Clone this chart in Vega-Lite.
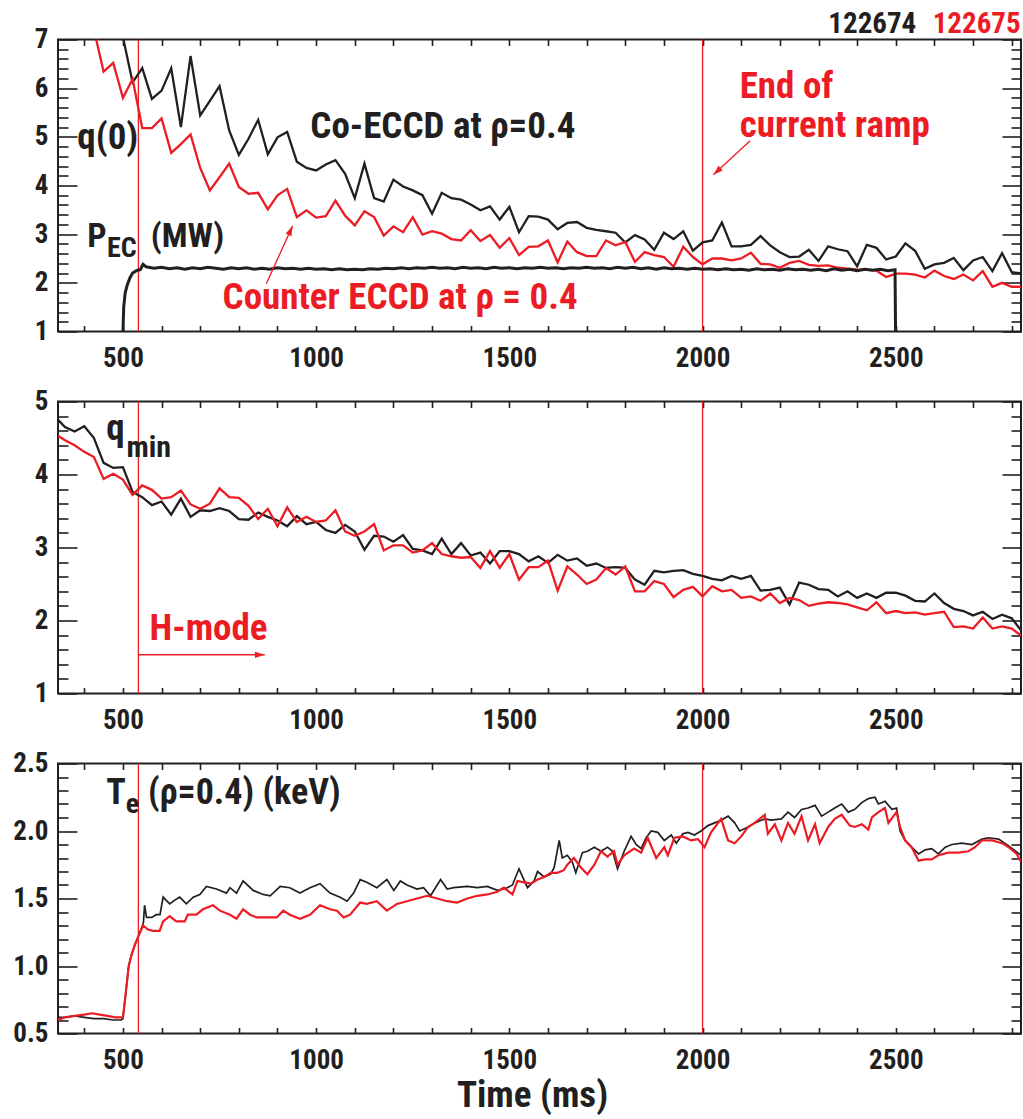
{
"$schema": "https://vega.github.io/schema/vega-lite/v6.json",
"background": "white",
"padding": {"left": 11, "top": 8.5, "right": 0, "bottom": 0},
"spacing": 70,
"bounds": "flush",
"config": {
  "view": {"stroke": "#231f20", "strokeWidth": 2},
  "text": {"font": "Roboto Condensed, Liberation Sans, sans-serif", "fontWeight": "bold"},
  "axis": {"labelFont": "Roboto Condensed, Liberation Sans, sans-serif", "labelFontWeight": "bold", "labelFontSize": 27, "labelColor": "#231f20", "tickColor": "#231f20", "tickWidth": 1.6, "domain": false, "grid": false, "titleFont": "Roboto Condensed, Liberation Sans, sans-serif", "titleFontWeight": "bold", "titleColor": "#231f20"}
},
"datasets": {
  "vl": [{"t": 540}, {"t": 2000}],
  "q0a": [{"t":450,"v":9.0},{"t":475,"v":8.0},{"t":500,"v":7.05},{"t":525,"v":6.12},{"t":550,"v":6.41},{"t":575,"v":5.78},{"t":600,"v":5.95},{"t":625,"v":6.41},{"t":650,"v":5.20},{"t":675,"v":6.66},{"t":700,"v":5.44},{"t":725,"v":5.74},{"t":750,"v":6.04},{"t":775,"v":5.13},{"t":800,"v":4.63},{"t":825,"v":4.96},{"t":850,"v":5.35},{"t":875,"v":4.64},{"t":900,"v":4.99},{"t":925,"v":5.10},{"t":950,"v":4.49},{"t":975,"v":4.36},{"t":1000,"v":4.31},{"t":1025,"v":4.43},{"t":1050,"v":4.52},{"t":1075,"v":4.24},{"t":1100,"v":3.74},{"t":1125,"v":4.45},{"t":1150,"v":3.74},{"t":1175,"v":3.67},{"t":1200,"v":4.12},{"t":1225,"v":3.98},{"t":1250,"v":3.90},{"t":1275,"v":3.80},{"t":1300,"v":3.42},{"t":1325,"v":3.85},{"t":1350,"v":3.74},{"t":1375,"v":3.71},{"t":1400,"v":3.61},{"t":1425,"v":3.49},{"t":1450,"v":3.57},{"t":1475,"v":3.30},{"t":1500,"v":3.56},{"t":1525,"v":3.04},{"t":1550,"v":3.37},{"t":1575,"v":3.36},{"t":1600,"v":3.30},{"t":1625,"v":3.10},{"t":1650,"v":3.23},{"t":1675,"v":3.25},{"t":1700,"v":3.13},{"t":1725,"v":3.09},{"t":1750,"v":3.06},{"t":1775,"v":3.03},{"t":1800,"v":2.83},{"t":1825,"v":2.98},{"t":1850,"v":2.89},{"t":1875,"v":2.68},{"t":1900,"v":3.03},{"t":1925,"v":2.90},{"t":1950,"v":3.06},{"t":1975,"v":2.66},{"t":2000,"v":2.83},{"t":2025,"v":2.87},{"t":2050,"v":3.24},{"t":2075,"v":2.75},{"t":2100,"v":2.75},{"t":2125,"v":2.78},{"t":2150,"v":2.96},{"t":2175,"v":2.77},{"t":2200,"v":2.63},{"t":2225,"v":2.53},{"t":2250,"v":2.54},{"t":2275,"v":2.68},{"t":2300,"v":2.45},{"t":2325,"v":2.75},{"t":2350,"v":2.69},{"t":2375,"v":2.65},{"t":2400,"v":2.34},{"t":2425,"v":2.78},{"t":2450,"v":2.72},{"t":2475,"v":2.48},{"t":2500,"v":2.54},{"t":2525,"v":2.81},{"t":2550,"v":2.66},{"t":2575,"v":2.29},{"t":2600,"v":2.38},{"t":2625,"v":2.41},{"t":2650,"v":2.51},{"t":2675,"v":2.26},{"t":2700,"v":2.46},{"t":2725,"v":2.53},{"t":2750,"v":2.24},{"t":2775,"v":2.61},{"t":2800,"v":2.22},{"t":2825,"v":2.19}],
  "q0b": [{"t":400,"v":8.2},{"t":425,"v":7.2},{"t":450,"v":6.34},{"t":475,"v":6.52},{"t":500,"v":5.80},{"t":525,"v":6.19},{"t":550,"v":5.18},{"t":575,"v":5.18},{"t":600,"v":5.38},{"t":625,"v":4.67},{"t":650,"v":4.85},{"t":675,"v":5.05},{"t":700,"v":4.36},{"t":725,"v":3.90},{"t":750,"v":4.17},{"t":775,"v":4.45},{"t":800,"v":3.97},{"t":825,"v":3.83},{"t":850,"v":3.85},{"t":875,"v":3.51},{"t":900,"v":3.80},{"t":925,"v":3.93},{"t":950,"v":3.35},{"t":975,"v":3.49},{"t":1000,"v":3.34},{"t":1025,"v":3.37},{"t":1050,"v":3.69},{"t":1075,"v":3.38},{"t":1100,"v":3.18},{"t":1125,"v":3.47},{"t":1150,"v":3.35},{"t":1175,"v":2.97},{"t":1200,"v":3.16},{"t":1225,"v":3.04},{"t":1250,"v":3.35},{"t":1275,"v":2.99},{"t":1300,"v":3.06},{"t":1325,"v":3.01},{"t":1350,"v":2.90},{"t":1375,"v":2.87},{"t":1400,"v":3.08},{"t":1425,"v":2.86},{"t":1450,"v":2.98},{"t":1475,"v":2.72},{"t":1500,"v":2.92},{"t":1525,"v":2.57},{"t":1550,"v":2.74},{"t":1575,"v":2.75},{"t":1600,"v":2.87},{"t":1625,"v":2.42},{"t":1650,"v":2.85},{"t":1675,"v":2.63},{"t":1700,"v":2.55},{"t":1725,"v":2.55},{"t":1750,"v":2.87},{"t":1775,"v":2.77},{"t":1800,"v":2.84},{"t":1825,"v":2.43},{"t":1850,"v":2.63},{"t":1875,"v":2.57},{"t":1900,"v":2.53},{"t":1925,"v":2.33},{"t":1950,"v":2.74},{"t":1975,"v":2.53},{"t":2000,"v":2.38},{"t":2025,"v":2.50},{"t":2050,"v":2.50},{"t":2075,"v":2.46},{"t":2100,"v":2.50},{"t":2125,"v":2.62},{"t":2150,"v":2.39},{"t":2175,"v":2.38},{"t":2200,"v":2.31},{"t":2225,"v":2.41},{"t":2250,"v":2.45},{"t":2275,"v":2.37},{"t":2300,"v":2.35},{"t":2325,"v":2.36},{"t":2350,"v":2.31},{"t":2375,"v":2.29},{"t":2400,"v":2.27},{"t":2425,"v":2.27},{"t":2450,"v":2.25},{"t":2475,"v":2.12},{"t":2500,"v":2.19},{"t":2525,"v":2.19},{"t":2550,"v":2.17},{"t":2575,"v":2.11},{"t":2600,"v":2.25},{"t":2625,"v":2.14},{"t":2650,"v":2.08},{"t":2675,"v":2.17},{"t":2700,"v":2.05},{"t":2725,"v":2.24},{"t":2750,"v":1.92},{"t":2775,"v":2.00},{"t":2800,"v":1.92},{"t":2825,"v":1.92}],
  "pec": [{"t":497,"v":0.5},{"t":500,"v":0.95},{"t":502,"v":1.5},{"t":506,"v":1.8},{"t":511,"v":1.95},{"t":518,"v":2.1},{"t":525,"v":2.2},{"t":535,"v":2.25},{"t":545,"v":2.27},{"t":552,"v":2.38},{"t":560,"v":2.33},{"t":580,"v":2.30},{"t":600,"v":2.32},{"t":620,"v":2.29},{"t":640,"v":2.31},{"t":660,"v":2.28},{"t":680,"v":2.31},{"t":700,"v":2.29},{"t":720,"v":2.32},{"t":740,"v":2.30},{"t":760,"v":2.28},{"t":780,"v":2.31},{"t":800,"v":2.29},{"t":820,"v":2.31},{"t":840,"v":2.28},{"t":860,"v":2.30},{"t":880,"v":2.28},{"t":900,"v":2.31},{"t":920,"v":2.29},{"t":940,"v":2.30},{"t":960,"v":2.28},{"t":980,"v":2.30},{"t":1000,"v":2.28},{"t":1020,"v":2.29},{"t":1040,"v":2.27},{"t":1060,"v":2.29},{"t":1080,"v":2.27},{"t":1100,"v":2.28},{"t":1120,"v":2.27},{"t":1140,"v":2.29},{"t":1160,"v":2.28},{"t":1180,"v":2.30},{"t":1200,"v":2.29},{"t":1220,"v":2.31},{"t":1240,"v":2.29},{"t":1260,"v":2.31},{"t":1280,"v":2.30},{"t":1300,"v":2.32},{"t":1320,"v":2.30},{"t":1340,"v":2.31},{"t":1360,"v":2.29},{"t":1380,"v":2.32},{"t":1400,"v":2.30},{"t":1420,"v":2.31},{"t":1440,"v":2.29},{"t":1460,"v":2.32},{"t":1480,"v":2.30},{"t":1500,"v":2.31},{"t":1520,"v":2.29},{"t":1540,"v":2.31},{"t":1560,"v":2.30},{"t":1580,"v":2.32},{"t":1600,"v":2.30},{"t":1620,"v":2.31},{"t":1640,"v":2.29},{"t":1660,"v":2.31},{"t":1680,"v":2.30},{"t":1700,"v":2.32},{"t":1720,"v":2.30},{"t":1740,"v":2.31},{"t":1760,"v":2.29},{"t":1780,"v":2.32},{"t":1800,"v":2.30},{"t":1820,"v":2.32},{"t":1840,"v":2.29},{"t":1860,"v":2.31},{"t":1880,"v":2.28},{"t":1900,"v":2.31},{"t":1920,"v":2.29},{"t":1940,"v":2.30},{"t":1960,"v":2.28},{"t":1980,"v":2.30},{"t":2000,"v":2.28},{"t":2020,"v":2.29},{"t":2040,"v":2.27},{"t":2060,"v":2.29},{"t":2080,"v":2.27},{"t":2100,"v":2.28},{"t":2120,"v":2.26},{"t":2140,"v":2.29},{"t":2160,"v":2.27},{"t":2180,"v":2.28},{"t":2200,"v":2.26},{"t":2220,"v":2.29},{"t":2240,"v":2.27},{"t":2260,"v":2.28},{"t":2280,"v":2.26},{"t":2300,"v":2.28},{"t":2320,"v":2.25},{"t":2340,"v":2.29},{"t":2360,"v":2.26},{"t":2380,"v":2.28},{"t":2400,"v":2.25},{"t":2420,"v":2.28},{"t":2440,"v":2.26},{"t":2460,"v":2.28},{"t":2480,"v":2.25},{"t":2498,"v":2.27},{"t":2500,"v":0.5}],
  "qma": [{"t":332,"v":4.75},{"t":350,"v":4.65},{"t":375,"v":4.59},{"t":400,"v":4.66},{"t":425,"v":4.50},{"t":450,"v":4.16},{"t":475,"v":4.09},{"t":500,"v":4.10},{"t":525,"v":3.76},{"t":550,"v":3.69},{"t":575,"v":3.58},{"t":600,"v":3.63},{"t":625,"v":3.45},{"t":650,"v":3.67},{"t":675,"v":3.42},{"t":700,"v":3.51},{"t":725,"v":3.50},{"t":750,"v":3.54},{"t":775,"v":3.50},{"t":800,"v":3.39},{"t":825,"v":3.38},{"t":850,"v":3.48},{"t":875,"v":3.42},{"t":900,"v":3.37},{"t":925,"v":3.29},{"t":950,"v":3.43},{"t":975,"v":3.32},{"t":1000,"v":3.35},{"t":1025,"v":3.24},{"t":1050,"v":3.20},{"t":1075,"v":3.31},{"t":1100,"v":3.22},{"t":1125,"v":2.97},{"t":1150,"v":3.16},{"t":1175,"v":3.15},{"t":1200,"v":3.08},{"t":1225,"v":3.17},{"t":1250,"v":2.98},{"t":1275,"v":2.96},{"t":1300,"v":2.91},{"t":1325,"v":3.12},{"t":1350,"v":2.91},{"t":1375,"v":3.06},{"t":1400,"v":2.89},{"t":1425,"v":2.93},{"t":1450,"v":2.78},{"t":1475,"v":2.95},{"t":1500,"v":2.95},{"t":1525,"v":2.91},{"t":1550,"v":2.81},{"t":1575,"v":2.88},{"t":1600,"v":2.79},{"t":1625,"v":2.90},{"t":1650,"v":2.82},{"t":1675,"v":2.85},{"t":1700,"v":2.75},{"t":1725,"v":2.78},{"t":1750,"v":2.72},{"t":1775,"v":2.73},{"t":1800,"v":2.72},{"t":1825,"v":2.56},{"t":1850,"v":2.49},{"t":1875,"v":2.68},{"t":1900,"v":2.66},{"t":1925,"v":2.68},{"t":1950,"v":2.69},{"t":1975,"v":2.64},{"t":2000,"v":2.61},{"t":2025,"v":2.57},{"t":2050,"v":2.55},{"t":2075,"v":2.61},{"t":2100,"v":2.57},{"t":2125,"v":2.61},{"t":2150,"v":2.41},{"t":2175,"v":2.42},{"t":2200,"v":2.45},{"t":2225,"v":2.22},{"t":2250,"v":2.52},{"t":2275,"v":2.49},{"t":2300,"v":2.43},{"t":2325,"v":2.42},{"t":2350,"v":2.33},{"t":2375,"v":2.40},{"t":2400,"v":2.31},{"t":2425,"v":2.37},{"t":2450,"v":2.31},{"t":2475,"v":2.38},{"t":2500,"v":2.38},{"t":2525,"v":2.34},{"t":2550,"v":2.27},{"t":2575,"v":2.26},{"t":2600,"v":2.37},{"t":2625,"v":2.24},{"t":2650,"v":2.16},{"t":2675,"v":2.13},{"t":2700,"v":2.07},{"t":2725,"v":2.12},{"t":2750,"v":2.02},{"t":2775,"v":2.08},{"t":2800,"v":2.03},{"t":2825,"v":1.86}],
  "qmb": [{"t":332,"v":4.53},{"t":350,"v":4.47},{"t":375,"v":4.40},{"t":400,"v":4.31},{"t":425,"v":4.24},{"t":450,"v":3.94},{"t":475,"v":4.01},{"t":500,"v":3.93},{"t":525,"v":3.72},{"t":550,"v":3.85},{"t":575,"v":3.79},{"t":600,"v":3.67},{"t":625,"v":3.69},{"t":650,"v":3.78},{"t":675,"v":3.59},{"t":700,"v":3.53},{"t":725,"v":3.60},{"t":750,"v":3.81},{"t":775,"v":3.69},{"t":800,"v":3.68},{"t":825,"v":3.57},{"t":850,"v":3.39},{"t":875,"v":3.53},{"t":900,"v":3.29},{"t":925,"v":3.55},{"t":950,"v":3.35},{"t":975,"v":3.42},{"t":1000,"v":3.35},{"t":1025,"v":3.37},{"t":1050,"v":3.51},{"t":1075,"v":3.22},{"t":1100,"v":3.16},{"t":1125,"v":3.22},{"t":1150,"v":3.32},{"t":1175,"v":2.96},{"t":1200,"v":3.03},{"t":1225,"v":3.03},{"t":1250,"v":2.93},{"t":1275,"v":2.96},{"t":1300,"v":3.06},{"t":1325,"v":2.91},{"t":1350,"v":2.88},{"t":1375,"v":2.86},{"t":1400,"v":2.87},{"t":1425,"v":2.72},{"t":1450,"v":2.95},{"t":1475,"v":2.72},{"t":1500,"v":2.91},{"t":1525,"v":2.56},{"t":1550,"v":2.73},{"t":1575,"v":2.73},{"t":1600,"v":2.82},{"t":1625,"v":2.41},{"t":1650,"v":2.74},{"t":1675,"v":2.63},{"t":1700,"v":2.50},{"t":1725,"v":2.56},{"t":1750,"v":2.72},{"t":1775,"v":2.63},{"t":1800,"v":2.74},{"t":1825,"v":2.40},{"t":1850,"v":2.40},{"t":1875,"v":2.54},{"t":1900,"v":2.50},{"t":1925,"v":2.32},{"t":1950,"v":2.42},{"t":1975,"v":2.46},{"t":2000,"v":2.33},{"t":2025,"v":2.47},{"t":2050,"v":2.40},{"t":2075,"v":2.42},{"t":2100,"v":2.31},{"t":2125,"v":2.33},{"t":2150,"v":2.27},{"t":2175,"v":2.37},{"t":2200,"v":2.24},{"t":2225,"v":2.31},{"t":2250,"v":2.28},{"t":2275,"v":2.20},{"t":2300,"v":2.23},{"t":2325,"v":2.25},{"t":2350,"v":2.24},{"t":2375,"v":2.22},{"t":2400,"v":2.18},{"t":2425,"v":2.14},{"t":2450,"v":2.25},{"t":2475,"v":2.10},{"t":2500,"v":2.13},{"t":2525,"v":2.10},{"t":2550,"v":2.11},{"t":2575,"v":2.08},{"t":2600,"v":2.10},{"t":2625,"v":2.12},{"t":2650,"v":1.91},{"t":2675,"v":1.92},{"t":2700,"v":1.89},{"t":2725,"v":2.04},{"t":2750,"v":1.89},{"t":2775,"v":1.92},{"t":2800,"v":1.89},{"t":2825,"v":1.79}],
  "tea": [{"t":332,"v":0.62},{"t":350,"v":0.62},{"t":375,"v":0.63},{"t":400,"v":0.62},{"t":425,"v":0.61},{"t":450,"v":0.61},{"t":475,"v":0.60},{"t":495,"v":0.60},{"t":500,"v":0.61},{"t":505,"v":0.74},{"t":515,"v":1.0},{"t":522,"v":1.08},{"t":530,"v":1.15},{"t":540,"v":1.22},{"t":548,"v":1.28},{"t":553,"v":1.32},{"t":556,"v":1.45},{"t":561,"v":1.36},{"t":575,"v":1.36},{"t":586,"v":1.38},{"t":596,"v":1.38},{"t":604,"v":1.51},{"t":621,"v":1.46},{"t":635,"v":1.49},{"t":647,"v":1.51},{"t":664,"v":1.46},{"t":682,"v":1.51},{"t":699,"v":1.53},{"t":716,"v":1.59},{"t":742,"v":1.57},{"t":768,"v":1.54},{"t":777,"v":1.58},{"t":794,"v":1.54},{"t":811,"v":1.63},{"t":837,"v":1.56},{"t":863,"v":1.53},{"t":881,"v":1.52},{"t":907,"v":1.59},{"t":932,"v":1.58},{"t":958,"v":1.54},{"t":984,"v":1.58},{"t":1010,"v":1.61},{"t":1036,"v":1.54},{"t":1062,"v":1.51},{"t":1080,"v":1.48},{"t":1097,"v":1.54},{"t":1114,"v":1.64},{"t":1131,"v":1.62},{"t":1157,"v":1.58},{"t":1183,"v":1.64},{"t":1201,"v":1.56},{"t":1218,"v":1.63},{"t":1235,"v":1.60},{"t":1261,"v":1.57},{"t":1278,"v":1.58},{"t":1296,"v":1.52},{"t":1322,"v":1.64},{"t":1339,"v":1.57},{"t":1356,"v":1.58},{"t":1391,"v":1.59},{"t":1417,"v":1.58},{"t":1443,"v":1.59},{"t":1469,"v":1.56},{"t":1495,"v":1.58},{"t":1508,"v":1.60},{"t":1525,"v":1.72},{"t":1547,"v":1.58},{"t":1564,"v":1.63},{"t":1573,"v":1.70},{"t":1590,"v":1.66},{"t":1607,"v":1.68},{"t":1616,"v":1.73},{"t":1629,"v":1.93},{"t":1637,"v":1.80},{"t":1650,"v":1.82},{"t":1663,"v":1.77},{"t":1672,"v":1.69},{"t":1689,"v":1.84},{"t":1702,"v":1.85},{"t":1720,"v":1.88},{"t":1737,"v":1.85},{"t":1754,"v":1.88},{"t":1767,"v":1.85},{"t":1780,"v":1.72},{"t":1797,"v":1.85},{"t":1815,"v":1.96},{"t":1828,"v":1.90},{"t":1841,"v":1.87},{"t":1854,"v":1.95},{"t":1867,"v":2.00},{"t":1884,"v":1.99},{"t":1901,"v":1.93},{"t":1919,"v":1.97},{"t":1932,"v":1.91},{"t":1949,"v":1.98},{"t":1962,"v":1.99},{"t":1979,"v":1.97},{"t":1996,"v":2.00},{"t":2014,"v":2.04},{"t":2031,"v":2.06},{"t":2048,"v":2.08},{"t":2066,"v":2.11},{"t":2083,"v":2.06},{"t":2096,"v":2.00},{"t":2118,"v":2.03},{"t":2135,"v":2.06},{"t":2161,"v":2.09},{"t":2178,"v":2.08},{"t":2204,"v":2.09},{"t":2221,"v":2.14},{"t":2238,"v":2.10},{"t":2256,"v":2.16},{"t":2273,"v":2.17},{"t":2291,"v":2.19},{"t":2308,"v":2.11},{"t":2325,"v":2.14},{"t":2342,"v":2.17},{"t":2360,"v":2.20},{"t":2377,"v":2.14},{"t":2394,"v":2.16},{"t":2412,"v":2.21},{"t":2429,"v":2.24},{"t":2446,"v":2.25},{"t":2455,"v":2.20},{"t":2472,"v":2.22},{"t":2490,"v":2.16},{"t":2502,"v":2.17},{"t":2511,"v":2.00},{"t":2524,"v":1.93},{"t":2541,"v":1.88},{"t":2559,"v":1.83},{"t":2576,"v":1.86},{"t":2593,"v":1.87},{"t":2610,"v":1.83},{"t":2628,"v":1.88},{"t":2645,"v":1.90},{"t":2671,"v":1.91},{"t":2697,"v":1.90},{"t":2723,"v":1.94},{"t":2740,"v":1.95},{"t":2766,"v":1.94},{"t":2792,"v":1.89},{"t":2810,"v":1.85},{"t":2824,"v":1.82}],
  "teb": [{"t":332,"v":0.60},{"t":350,"v":0.62},{"t":375,"v":0.63},{"t":400,"v":0.64},{"t":420,"v":0.65},{"t":440,"v":0.64},{"t":460,"v":0.63},{"t":480,"v":0.62},{"t":495,"v":0.62},{"t":500,"v":0.62},{"t":505,"v":0.74},{"t":515,"v":1.0},{"t":522,"v":1.08},{"t":530,"v":1.15},{"t":540,"v":1.22},{"t":552,"v":1.30},{"t":565,"v":1.27},{"t":578,"v":1.26},{"t":595,"v":1.26},{"t":604,"v":1.33},{"t":621,"v":1.37},{"t":638,"v":1.33},{"t":660,"v":1.33},{"t":668,"v":1.38},{"t":690,"v":1.38},{"t":707,"v":1.42},{"t":733,"v":1.45},{"t":751,"v":1.41},{"t":777,"v":1.38},{"t":794,"v":1.35},{"t":811,"v":1.42},{"t":829,"v":1.38},{"t":846,"v":1.36},{"t":872,"v":1.36},{"t":898,"v":1.36},{"t":915,"v":1.41},{"t":932,"v":1.38},{"t":958,"v":1.35},{"t":984,"v":1.38},{"t":1010,"v":1.45},{"t":1036,"v":1.42},{"t":1054,"v":1.41},{"t":1071,"v":1.36},{"t":1088,"v":1.38},{"t":1114,"v":1.47},{"t":1131,"v":1.46},{"t":1157,"v":1.48},{"t":1183,"v":1.41},{"t":1209,"v":1.46},{"t":1235,"v":1.48},{"t":1261,"v":1.50},{"t":1287,"v":1.52},{"t":1313,"v":1.50},{"t":1339,"v":1.48},{"t":1365,"v":1.47},{"t":1391,"v":1.50},{"t":1417,"v":1.52},{"t":1443,"v":1.53},{"t":1469,"v":1.55},{"t":1486,"v":1.58},{"t":1508,"v":1.53},{"t":1521,"v":1.63},{"t":1538,"v":1.62},{"t":1556,"v":1.61},{"t":1573,"v":1.64},{"t":1590,"v":1.66},{"t":1607,"v":1.69},{"t":1624,"v":1.69},{"t":1641,"v":1.71},{"t":1650,"v":1.75},{"t":1667,"v":1.80},{"t":1685,"v":1.73},{"t":1702,"v":1.68},{"t":1720,"v":1.75},{"t":1737,"v":1.85},{"t":1754,"v":1.81},{"t":1771,"v":1.85},{"t":1780,"v":1.75},{"t":1797,"v":1.82},{"t":1823,"v":1.87},{"t":1841,"v":1.84},{"t":1858,"v":1.95},{"t":1880,"v":1.80},{"t":1901,"v":1.88},{"t":1910,"v":1.82},{"t":1927,"v":1.95},{"t":1949,"v":1.96},{"t":1970,"v":1.93},{"t":1988,"v":1.94},{"t":2005,"v":1.88},{"t":2022,"v":1.99},{"t":2048,"v":2.09},{"t":2066,"v":1.93},{"t":2083,"v":1.91},{"t":2100,"v":1.96},{"t":2118,"v":2.03},{"t":2135,"v":2.06},{"t":2161,"v":2.12},{"t":2169,"v":1.98},{"t":2187,"v":2.05},{"t":2204,"v":1.93},{"t":2221,"v":2.06},{"t":2238,"v":1.98},{"t":2256,"v":2.11},{"t":2273,"v":1.93},{"t":2291,"v":2.05},{"t":2303,"v":1.91},{"t":2325,"v":2.03},{"t":2342,"v":2.09},{"t":2360,"v":2.12},{"t":2381,"v":2.04},{"t":2394,"v":2.03},{"t":2412,"v":2.05},{"t":2429,"v":2.01},{"t":2438,"v":2.10},{"t":2455,"v":2.14},{"t":2472,"v":2.17},{"t":2481,"v":2.06},{"t":2494,"v":2.11},{"t":2502,"v":2.14},{"t":2511,"v":2.03},{"t":2524,"v":1.93},{"t":2541,"v":1.88},{"t":2559,"v":1.78},{"t":2576,"v":1.79},{"t":2593,"v":1.79},{"t":2610,"v":1.82},{"t":2636,"v":1.84},{"t":2662,"v":1.84},{"t":2688,"v":1.85},{"t":2705,"v":1.88},{"t":2723,"v":1.93},{"t":2749,"v":1.93},{"t":2775,"v":1.91},{"t":2792,"v":1.88},{"t":2813,"v":1.83},{"t":2824,"v":1.77}],
  "p1k": [{"t":382,"v":4.75,"label":"q(0)"},{"t":985,"v":4.97,"label":"Co-ECCD at ρ=0.4"}],
  "p1p": [{"t":408,"v":2.74,"label":"P"},{"t":572,"v":2.74,"label":"(MW)"}],
  "p1s": [{"t":459,"v":2.53,"label":"EC"}],
  "p1r": [{"t":758,"v":1.47,"label":"Counter ECCD at ρ = 0.4"},{"t":2096,"v":5.79,"label":"End of"},{"t":2096,"v":4.99,"label":"current ramp"}],
  "shots": [{"t":2553,"v":7.14,"label":"122674"},{"t":2823,"v":7.14,"label":"122675"}],
  "arr1": [{"t":2123,"v":4.92,"t2":2028,"v2":4.22},{"t":871,"v":1.98,"t2":939,"v2":3.17}],
  "head1": [{"t":2028,"v":4.22}],
  "head2": [{"t":939,"v":3.17}],
  "p2k": [{"t":457,"v":4.47,"label":"q"}],
  "p2s": [{"t":509,"v":4.24,"label":"min"}],
  "p2r": [{"t":569,"v":1.73,"label":"H-mode"}],
  "arr2": [{"t":540,"v":1.53,"t2":867}],
  "head3": [{"t":867,"v":1.53}],
  "p3k": [{"t":457,"v":2.20,"label":"T"},{"t":565,"v":2.20,"label":"(ρ=0.4) (keV)"}],
  "p3s": [{"t":507,"v":2.137,"label":"e"}]
},
"vconcat": [
{
  "width": 963, "height": 292,
  "layer": [
    {"data": {"name": "vl"}, "mark": {"type": "rule", "color": "#ec1c24", "strokeWidth": 1.3},
     "encoding": {"x": {"field": "t", "type": "quantitative", "scale": {"domain": [332, 2824], "nice": false, "zero": false}, "axis": null}}},
    {"data": {"name": "q0a"}, "mark": {"type": "line", "color": "#231f20", "strokeWidth": 2.3, "clip": true},
     "encoding": {
       "x": {"field": "t", "type": "quantitative", "scale": {"domain": [332, 2824], "nice": false, "zero": false},
             "axis": {"orient": "bottom", "values": [400,500,600,700,800,900,1000,1100,1200,1300,1400,1500,1600,1700,1800,1900,2000,2100,2200,2300,2400,2500,2600,2700,2800], "format": "d", "labelExpr": "datum.value % 500 === 0 ? datum.label : ''", "labelOverlap": false, "labelFlush": false, "tickSize": -6, "labelPadding": 20, "title": null}},
       "y": {"field": "v", "type": "quantitative", "scale": {"domain": [1, 7], "nice": false, "zero": false},
             "axis": {"orient": "left", "values": [1,2,3,4,5,6,7], "format": "d", "tickSize": -19, "labelPadding": 29, "title": null, "encode": {"labels": {"update": {"dy": {"signal": "datum.value === 7 ? 7 : (datum.value === 1 ? -9 : 0)"}}}}}}}},
    {"data": {"name": "q0b"}, "mark": {"type": "line", "color": "#ec1c24", "strokeWidth": 2.3, "clip": true},
     "encoding": {
       "x": {"field": "t", "type": "quantitative", "scale": {"domain": [332, 2824], "nice": false, "zero": false},
             "axis": {"orient": "top", "values": [400,500,600,700,800,900,1000,1100,1200,1300,1400,1500,1600,1700,1800,1900,2000,2100,2200,2300,2400,2500,2600,2700,2800], "tickSize": -6, "labels": false, "title": null}},
       "y": {"field": "v", "type": "quantitative", "scale": {"domain": [1, 7], "nice": false, "zero": false},
             "axis": {"orient": "right", "values": [1,2,3,4,5,6,7], "tickSize": -19, "labels": false, "title": null}}}},
    {"data": {"name": "pec"}, "mark": {"type": "line", "color": "#231f20", "strokeWidth": 3, "clip": true},
     "encoding": {
       "x": {"field": "t", "type": "quantitative", "scale": {"domain": [332, 2824], "nice": false, "zero": false}, "axis": null},
       "y": {"field": "v", "type": "quantitative", "scale": {"domain": [1, 7], "nice": false, "zero": false},
             "axis": {"orient": "left", "values": [1.2,1.4,1.6,1.8,2.2,2.4,2.6,2.8,3.2,3.4,3.6,3.8,4.2,4.4,4.6,4.8,5.2,5.4,5.6,5.8,6.2,6.4,6.6,6.8], "tickSize": -10, "labels": false, "title": null}}}},
    {"data": {"name": "p1k"}, "mark": {"type": "text", "align": "left", "baseline": "alphabetic", "fontSize": 37, "color": "#231f20"},
     "encoding": {
       "x": {"field": "t", "type": "quantitative", "scale": {"domain": [332, 2824], "nice": false, "zero": false}, "axis": null},
       "y": {"field": "v", "type": "quantitative", "scale": {"domain": [1, 7], "nice": false, "zero": false},
             "axis": {"orient": "right", "values": [1.2,1.4,1.6,1.8,2.2,2.4,2.6,2.8,3.2,3.4,3.6,3.8,4.2,4.4,4.6,4.8,5.2,5.4,5.6,5.8,6.2,6.4,6.6,6.8], "tickSize": -10, "labels": false, "title": null}},
       "text": {"field": "label"}}},
    {"data": {"name": "p1p"}, "mark": {"type": "text", "align": "left", "baseline": "alphabetic", "fontSize": 34, "color": "#231f20"},
     "encoding": {"x": {"field": "t", "type": "quantitative", "axis": null}, "y": {"field": "v", "type": "quantitative", "axis": null}, "text": {"field": "label"}}},
    {"data": {"name": "p1s"}, "mark": {"type": "text", "align": "left", "baseline": "alphabetic", "fontSize": 28, "color": "#231f20"},
     "encoding": {"x": {"field": "t", "type": "quantitative", "axis": null}, "y": {"field": "v", "type": "quantitative", "axis": null}, "text": {"field": "label"}}},
    {"data": {"name": "p1r"}, "mark": {"type": "text", "align": "left", "baseline": "alphabetic", "fontSize": 37, "color": "#ec1c24"},
     "encoding": {"x": {"field": "t", "type": "quantitative", "axis": null}, "y": {"field": "v", "type": "quantitative", "axis": null}, "text": {"field": "label"}}},
    {"data": {"name": "shots"}, "mark": {"type": "text", "align": "right", "baseline": "alphabetic", "fontSize": 29},
     "encoding": {"x": {"field": "t", "type": "quantitative", "axis": null}, "y": {"field": "v", "type": "quantitative", "axis": null}, "text": {"field": "label"},
       "color": {"field": "label", "type": "nominal", "scale": {"domain": ["122674", "122675"], "range": ["#231f20", "#ec1c24"]}, "legend": null}}},
    {"data": {"name": "arr1"}, "mark": {"type": "rule", "color": "#ec1c24", "strokeWidth": 1.3},
     "encoding": {"x": {"field": "t", "type": "quantitative", "axis": null}, "y": {"field": "v", "type": "quantitative", "axis": null}, "x2": {"field": "t2"}, "y2": {"field": "v2"}}},
    {"data": {"name": "head1"}, "mark": {"type": "point", "shape": "M0,0L-0.45,1.4L0.45,1.4Z", "filled": true, "color": "#ec1c24", "size": 196, "angle": 227, "opacity": 1},
     "encoding": {"x": {"field": "t", "type": "quantitative", "axis": null}, "y": {"field": "v", "type": "quantitative", "axis": null}}},
    {"data": {"name": "head2"}, "mark": {"type": "point", "shape": "M0,0L-0.45,1.4L0.45,1.4Z", "filled": true, "color": "#ec1c24", "size": 196, "angle": 24, "opacity": 1},
     "encoding": {"x": {"field": "t", "type": "quantitative", "axis": null}, "y": {"field": "v", "type": "quantitative", "axis": null}}}
  ],
  "resolve": {"axis": {"x": "independent", "y": "independent"}}
},
{
  "width": 963, "height": 292,
  "layer": [
    {"data": {"name": "vl"}, "mark": {"type": "rule", "color": "#ec1c24", "strokeWidth": 1.3},
     "encoding": {"x": {"field": "t", "type": "quantitative", "scale": {"domain": [332, 2824], "nice": false, "zero": false}, "axis": null}}},
    {"data": {"name": "qma"}, "mark": {"type": "line", "color": "#231f20", "strokeWidth": 2.3, "clip": true},
     "encoding": {
       "x": {"field": "t", "type": "quantitative", "scale": {"domain": [332, 2824], "nice": false, "zero": false},
             "axis": {"orient": "bottom", "values": [400,500,600,700,800,900,1000,1100,1200,1300,1400,1500,1600,1700,1800,1900,2000,2100,2200,2300,2400,2500,2600,2700,2800], "format": "d", "labelExpr": "datum.value % 500 === 0 ? datum.label : ''", "labelOverlap": false, "labelFlush": false, "tickSize": -6, "labelPadding": 20, "title": null}},
       "y": {"field": "v", "type": "quantitative", "scale": {"domain": [1, 5], "nice": false, "zero": false},
             "axis": {"orient": "left", "values": [1,2,3,4,5], "format": "d", "tickSize": -19, "labelPadding": 29, "title": null, "encode": {"labels": {"update": {"dy": {"signal": "datum.value === 5 ? 6 : (datum.value === 1 ? -10 : 0)"}}}}}}}},
    {"data": {"name": "qmb"}, "mark": {"type": "line", "color": "#ec1c24", "strokeWidth": 2.3, "clip": true},
     "encoding": {
       "x": {"field": "t", "type": "quantitative", "scale": {"domain": [332, 2824], "nice": false, "zero": false},
             "axis": {"orient": "top", "values": [400,500,600,700,800,900,1000,1100,1200,1300,1400,1500,1600,1700,1800,1900,2000,2100,2200,2300,2400,2500,2600,2700,2800], "tickSize": -6, "labels": false, "title": null}},
       "y": {"field": "v", "type": "quantitative", "scale": {"domain": [1, 5], "nice": false, "zero": false},
             "axis": {"orient": "right", "values": [1,2,3,4,5], "tickSize": -19, "labels": false, "title": null}}}},
    {"data": {"name": "p2k"}, "mark": {"type": "text", "align": "left", "baseline": "alphabetic", "fontSize": 37, "color": "#231f20"},
     "encoding": {
       "x": {"field": "t", "type": "quantitative", "scale": {"domain": [332, 2824], "nice": false, "zero": false}, "axis": null},
       "y": {"field": "v", "type": "quantitative", "scale": {"domain": [1, 5], "nice": false, "zero": false},
             "axis": {"orient": "left", "values": [1.2,1.4,1.6,1.8,2.2,2.4,2.6,2.8,3.2,3.4,3.6,3.8,4.2,4.4,4.6,4.8], "tickSize": -10, "labels": false, "title": null}},
       "text": {"field": "label"}}},
    {"data": {"name": "p2s"}, "mark": {"type": "text", "align": "left", "baseline": "alphabetic", "fontSize": 30, "color": "#231f20"},
     "encoding": {
       "x": {"field": "t", "type": "quantitative", "axis": null},
       "y": {"field": "v", "type": "quantitative",
             "axis": {"orient": "right", "values": [1.2,1.4,1.6,1.8,2.2,2.4,2.6,2.8,3.2,3.4,3.6,3.8,4.2,4.4,4.6,4.8], "tickSize": -10, "labels": false, "title": null}},
       "text": {"field": "label"}}},
    {"data": {"name": "p2r"}, "mark": {"type": "text", "align": "left", "baseline": "alphabetic", "fontSize": 37, "color": "#ec1c24"},
     "encoding": {"x": {"field": "t", "type": "quantitative", "axis": null}, "y": {"field": "v", "type": "quantitative", "axis": null}, "text": {"field": "label"}}},
    {"data": {"name": "arr2"}, "mark": {"type": "rule", "color": "#ec1c24", "strokeWidth": 1.5},
     "encoding": {"x": {"field": "t", "type": "quantitative", "axis": null}, "y": {"field": "v", "type": "quantitative", "axis": null}, "x2": {"field": "t2"}}},
    {"data": {"name": "head3"}, "mark": {"type": "point", "shape": "M0,0L-0.45,1.4L0.45,1.4Z", "filled": true, "color": "#ec1c24", "size": 196, "angle": 90, "opacity": 1},
     "encoding": {"x": {"field": "t", "type": "quantitative", "axis": null}, "y": {"field": "v", "type": "quantitative", "axis": null}}}
  ],
  "resolve": {"axis": {"x": "independent", "y": "independent"}}
},
{
  "width": 963, "height": 270,
  "layer": [
    {"data": {"name": "vl"}, "mark": {"type": "rule", "color": "#ec1c24", "strokeWidth": 1.3},
     "encoding": {"x": {"field": "t", "type": "quantitative", "scale": {"domain": [332, 2824], "nice": false, "zero": false}, "axis": null}}},
    {"data": {"name": "tea"}, "mark": {"type": "line", "color": "#231f20", "strokeWidth": 1.7, "clip": true},
     "encoding": {
       "x": {"field": "t", "type": "quantitative", "scale": {"domain": [332, 2824], "nice": false, "zero": false},
             "axis": {"orient": "bottom", "values": [400,500,600,700,800,900,1000,1100,1200,1300,1400,1500,1600,1700,1800,1900,2000,2100,2200,2300,2400,2500,2600,2700,2800], "format": "d", "labelExpr": "datum.value % 500 === 0 ? datum.label : ''", "labelOverlap": false, "labelFlush": false, "tickSize": -6, "labelPadding": 20, "title": "Time (ms)", "titleFontSize": 37, "titlePadding": 4, "titleX": 474}},
       "y": {"field": "v", "type": "quantitative", "scale": {"domain": [0.5, 2.5], "nice": false, "zero": false},
             "axis": {"orient": "left", "values": [0.5,1.0,1.5,2.0,2.5], "format": ".1f", "tickSize": -19, "labelPadding": 29, "title": null, "encode": {"labels": {"update": {"dy": {"signal": "datum.value === 2.5 ? 5 : (datum.value === 0.5 ? -9 : 0)"}}}}}}}},
    {"data": {"name": "teb"}, "mark": {"type": "line", "color": "#ec1c24", "strokeWidth": 2.2, "clip": true},
     "encoding": {
       "x": {"field": "t", "type": "quantitative", "scale": {"domain": [332, 2824], "nice": false, "zero": false},
             "axis": {"orient": "top", "values": [400,500,600,700,800,900,1000,1100,1200,1300,1400,1500,1600,1700,1800,1900,2000,2100,2200,2300,2400,2500,2600,2700,2800], "tickSize": -6, "labels": false, "title": null}},
       "y": {"field": "v", "type": "quantitative", "scale": {"domain": [0.5, 2.5], "nice": false, "zero": false},
             "axis": {"orient": "right", "values": [0.5,1.0,1.5,2.0,2.5], "tickSize": -19, "labels": false, "title": null}}}},
    {"data": {"name": "p3k"}, "mark": {"type": "text", "align": "left", "baseline": "alphabetic", "fontSize": 36, "color": "#231f20"},
     "encoding": {
       "x": {"field": "t", "type": "quantitative", "scale": {"domain": [332, 2824], "nice": false, "zero": false}, "axis": null},
       "y": {"field": "v", "type": "quantitative", "scale": {"domain": [0.5, 2.5], "nice": false, "zero": false},
             "axis": {"orient": "left", "values": [0.6,0.7,0.8,0.9,1.1,1.2,1.3,1.4,1.6,1.7,1.8,1.9,2.1,2.2,2.3,2.4], "tickSize": -10, "labels": false, "title": null}},
       "text": {"field": "label"}}},
    {"data": {"name": "p3s"}, "mark": {"type": "text", "align": "left", "baseline": "alphabetic", "fontSize": 28, "color": "#231f20"},
     "encoding": {
       "x": {"field": "t", "type": "quantitative", "axis": null},
       "y": {"field": "v", "type": "quantitative",
             "axis": {"orient": "right", "values": [0.6,0.7,0.8,0.9,1.1,1.2,1.3,1.4,1.6,1.7,1.8,1.9,2.1,2.2,2.3,2.4], "tickSize": -10, "labels": false, "title": null}},
       "text": {"field": "label"}}}
  ],
  "resolve": {"axis": {"x": "independent", "y": "independent"}}
}
]
}
